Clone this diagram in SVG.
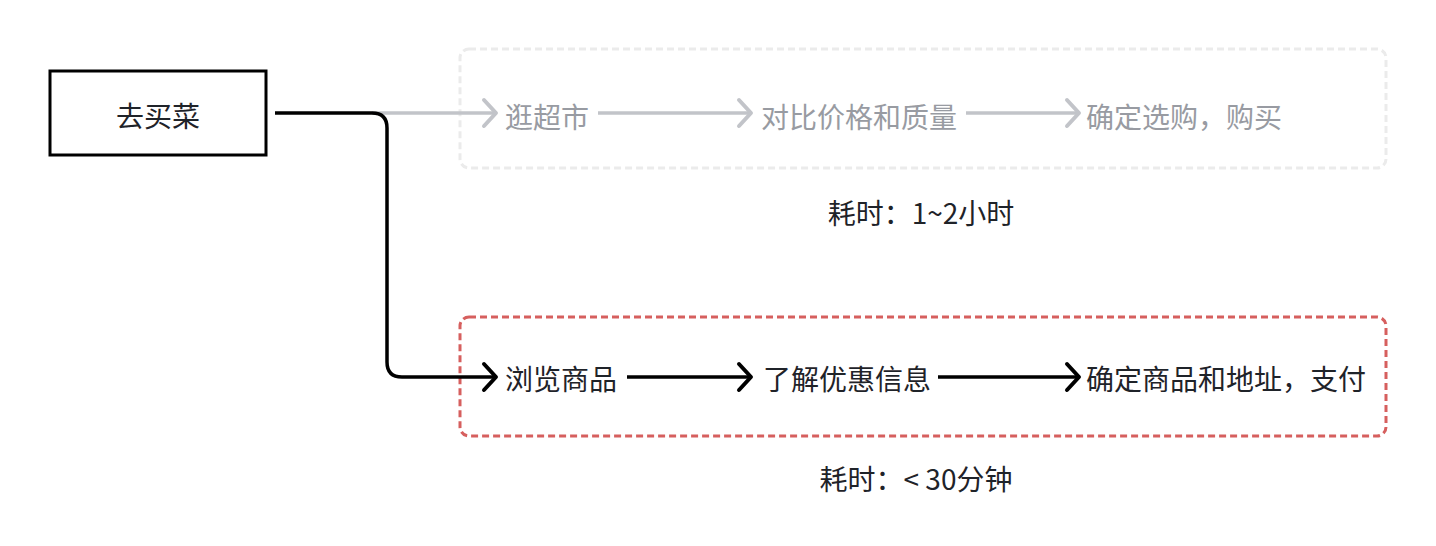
<svg xmlns="http://www.w3.org/2000/svg" width="1436" height="546" viewBox="0 0 1436 546">
<style>
text{font-family:"Noto Sans CJK SC","Noto Sans",sans-serif;font-size:28px;dominant-baseline:central}
.dark{fill:#1f2329}
.gray{fill:#989ba2}
.lk{fill:none;stroke:#000;stroke-width:3.5}
.lg{fill:none;stroke:#c2c4c9;stroke-width:3.5}
</style>
<defs>
<marker id="ak" markerUnits="userSpaceOnUse" viewBox="-16 -16 32 32" markerWidth="32" markerHeight="32" refX="0" refY="0" orient="auto">
<path d="M-12,-13 L0,0 L-12,13" fill="none" stroke="#000" stroke-width="4" stroke-linecap="round" stroke-linejoin="round"/>
</marker>
<marker id="ag" markerUnits="userSpaceOnUse" viewBox="-16 -16 32 32" markerWidth="32" markerHeight="32" refX="0" refY="0" orient="auto">
<path d="M-12,-13 L0,0 L-12,13" fill="none" stroke="#c2c4c9" stroke-width="4" stroke-linecap="round" stroke-linejoin="round"/>
</marker>
</defs>
<rect width="1436" height="546" fill="#fff"/>
<g id="group-old">
<rect x="460" y="49" width="926" height="119" rx="9" fill="none" stroke="#ebebeb" stroke-width="3" stroke-dasharray="7 4"/>
</g>
<g id="group-new">
<rect x="460" y="317" width="926" height="119" rx="9" fill="none" stroke="#d65f5e" stroke-width="3" stroke-dasharray="7 4"/>
</g>
<g id="connectors">
<path class="lg" d="M372,113 H496" marker-end="url(#ag)"/>
<path class="lk" d="M275,113 H372 Q387,113 387,128 V362 Q387,377 402,377 H496" marker-end="url(#ak)"/>
<path class="lg" d="M598,113 H751" marker-end="url(#ag)"/>
<path class="lg" d="M966,113 H1079" marker-end="url(#ag)"/>
<path class="lk" d="M627,377 H751" marker-end="url(#ak)"/>
<path class="lk" d="M938,377 H1079" marker-end="url(#ak)"/>
</g>
<g id="start">
<rect x="50" y="71" width="216" height="84" fill="#fff" stroke="#000" stroke-width="3"/>
<text class="dark" x="158" y="115" text-anchor="middle">去买菜</text>
</g>
<g id="n-guang"><text class="gray" x="505" y="116">逛超市</text></g>
<g id="n-duibi"><text class="gray" x="761" y="116">对比价格和质量</text></g>
<g id="n-queding1"><text class="gray" x="1086" y="116">确定选购，购买</text></g>
<g id="n-liulan"><text class="dark" x="505" y="378">浏览商品</text></g>
<g id="n-liaojie"><text class="dark" x="763" y="378">了解优惠信息</text></g>
<g id="n-queding2"><text class="dark" x="1086" y="378">确定商品和地址，支付</text></g>
<g id="label-old"><text class="dark" x="921" y="212" text-anchor="middle">耗时：1~2小时</text></g>
<g id="label-new"><text class="dark" x="916" y="478" text-anchor="middle">耗时：&lt; 30分钟</text></g>
</svg>
